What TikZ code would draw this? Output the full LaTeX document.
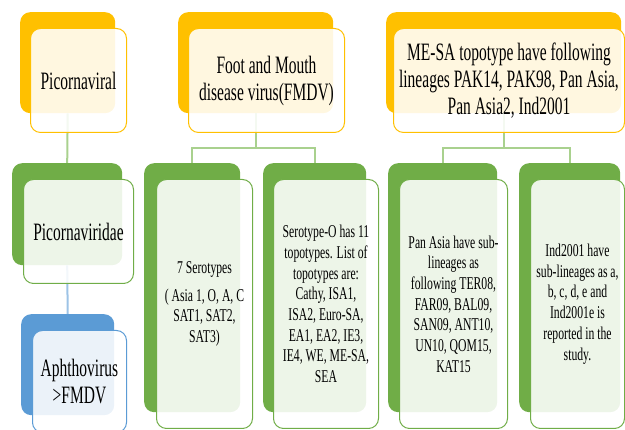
\documentclass[tikz,border=0pt]{standalone}
\usepackage{fontspec}
\newfontfamily\bigdiagfont[FakeStretch=0.62]{Liberation Serif}
\newfontfamily\smalldiagfont[FakeStretch=0.65]{Liberation Serif}
\definecolor{gold}{HTML}{FFC000}
\definecolor{leaf}{HTML}{70AD47}
\definecolor{sky}{HTML}{5B9BD5}
\definecolor{leafline}{HTML}{A9D18E}
\definecolor{skyline}{HTML}{9DC3E6}
\tikzset{
  backbox/.style={fill=#1, rounded corners=10pt, inner sep=0pt, anchor=north west},
  frontbox/.style={draw=#1, line width=1pt, fill=white, fill opacity=0.88, text opacity=1,
    rounded corners=10pt, inner sep=0pt, anchor=north west, align=center},
  conn/.style={draw=#1, line width=2pt},
  bigtext/.style={font=\bigdiagfont\fontsize{25}{27}\selectfont},
  smalltext/.style={font=\smalldiagfont\fontsize{18}{20.7}\selectfont},
}
\begin{document}
\begin{tikzpicture}[x=1pt,y=1pt]
  \useasboundingbox (0,0) rectangle (625,430);

  % coloured back panels
  \node[backbox=gold, minimum width=95, minimum height=101] (picoB) at (20,418) {};
  \node[backbox=gold, minimum width=155, minimum height=101] (fmdvB) at (178,418) {};
  \node[backbox=gold, minimum width=235, minimum height=101] (mesaB) at (386,418) {};

  \node[backbox=leaf, minimum width=110, minimum height=102] (famB) at (12,267) {};
  \node[backbox=sky, minimum width=93, minimum height=101] (genB) at (21,116) {};
  \node[backbox=leaf, minimum width=96, minimum height=249] (seroB) at (144,267) {};
  \node[backbox=leaf, minimum width=103, minimum height=249] (topoB) at (263,267) {};
  \node[backbox=leaf, minimum width=109, minimum height=249] (panB) at (388,267) {};
  \node[backbox=leaf, minimum width=101, minimum height=249] (indB) at (519,267) {};

  % connectors
  \draw[conn=leafline] (picoB.south) -- (famB.north);
  \draw[conn=skyline] (famB.south) -- (genB.north);
  \draw[conn=leafline] (fmdvB.south) -- ++(0,-35) -| (seroB.north);
  \draw[conn=leafline] (fmdvB.south) -- ++(0,-35) -| (topoB.north);
  \draw[conn=leafline] (mesaB.south) -- ++(0,-35) -| (panB.north);
  \draw[conn=leafline] (mesaB.south) -- ++(0,-35) -| (indB.north);

  % front boxes with the text
  \node[frontbox=gold, bigtext, minimum width=96, minimum height=104] (pico) at (30,402) {Picornaviral};
  \node[frontbox=gold, bigtext, minimum width=156, minimum height=104] (fmdv) at (188,402) {Foot and Mouth\\disease virus(FMDV)};
  \node[frontbox=gold, bigtext, minimum width=231, minimum height=104] (mesa) at (393,402) {ME-SA topotype have following\\lineages PAK14, PAK98, Pan Asia,\\Pan Asia2, Ind2001};

  \node[frontbox=leaf, bigtext, minimum width=110, minimum height=104] (fam) at (23,251) {Picornaviridae};
  \node[frontbox=sky, bigtext, minimum width=94, minimum height=102] (gen) at (32,100) {Aphthovirus\\>FMDV};
  \node[frontbox=leaf, smalltext, minimum width=96, minimum height=249] (sero) at (156,251) {7 Serotypes\\[7pt]( Asia 1, O, A, C\\SAT1, SAT2,\\SAT3)};
  \node[frontbox=leaf, smalltext, minimum width=105, minimum height=249] (topo) at (273,251) {Serotype-O has 11\\topotypes. List of\\topotypes are:\\Cathy, ISA1,\\ISA2, Euro-SA,\\EA1, EA2, IE3,\\IE4, WE, ME-SA,\\SEA};
  \node[frontbox=leaf, smalltext, minimum width=108, minimum height=249] (pan) at (399,251) {Pan Asia have sub-\\lineages as\\following TER08,\\FAR09, BAL09,\\SAN09, ANT10,\\UN10, QOM15,\\KAT15};
  \node[frontbox=leaf, smalltext, minimum width=94, minimum height=249] (ind) at (530,251) {Ind2001 have\\sub-lineages as a,\\b, c, d, e and\\Ind2001e is\\reported in the\\study.};
\end{tikzpicture}
\end{document}
